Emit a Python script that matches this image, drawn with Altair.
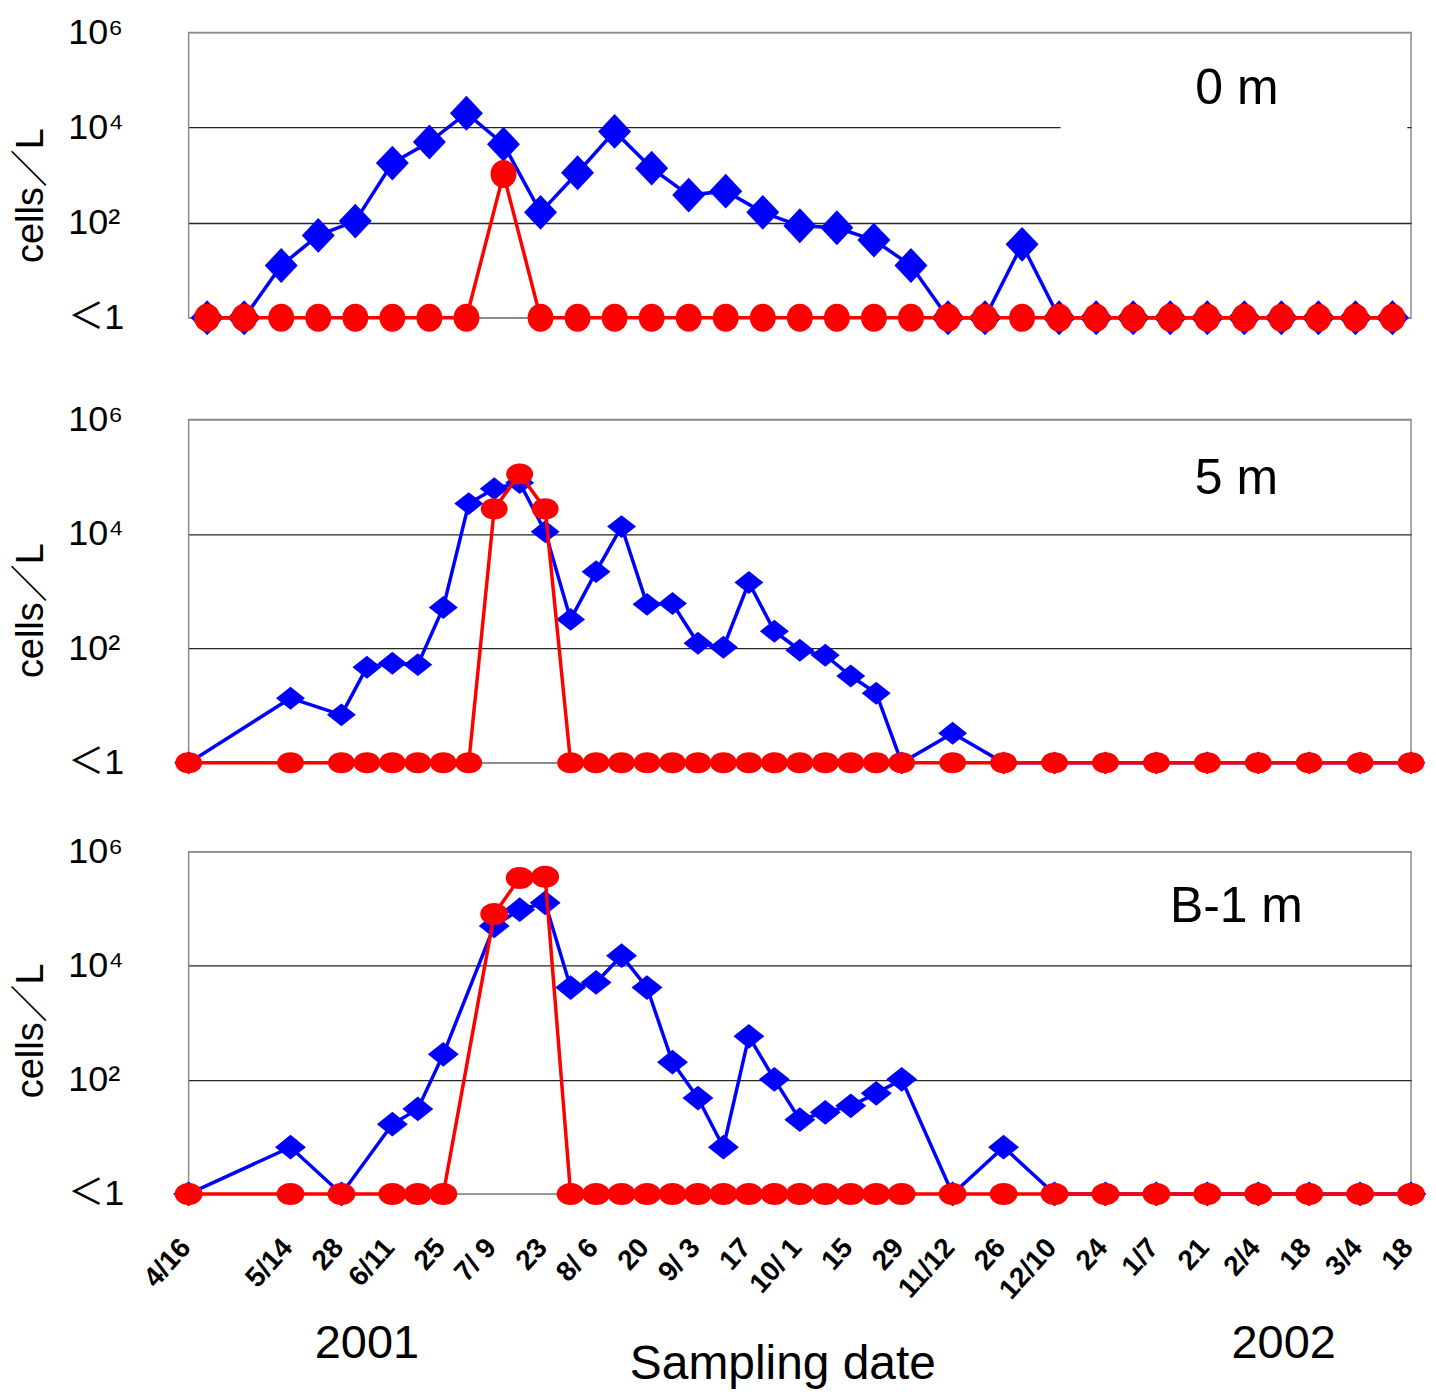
import altair as alt
import pandas as pd

# ---------------- data ----------------
# Panel "0 m": 33 sampling occasions drawn evenly spaced
surface_occasion = [1, 2, 3, 4, 5, 6, 7, 8, 9, 10, 11, 12, 13, 14, 15, 16, 17,
                    18, 19, 20, 21, 22, 23, 24, 25, 26, 27, 28, 29, 30, 31, 32, 33]
surface_blue = [1, 1, 12.6, 54, 108, 1790, 4950, 20000, 4460, 165, 1120,
                8300, 1400, 380, 460, 165, 86, 78, 43, 12.6, 1, 1, 35,
                1, 1, 1, 1, 1, 1, 1, 1, 1, 1]
surface_red = [1, 1, 1, 1, 1, 1, 1, 1, 1050, 1, 1, 1, 1, 1, 1, 1, 1,
               1, 1, 1, 1, 1, 1, 1, 1, 1, 1, 1, 1, 1, 1, 1, 1]

# Panel "5 m"
m5_dates = ["2001-04-16", "2001-05-14", "2001-05-28", "2001-06-04", "2001-06-11",
            "2001-06-18", "2001-06-25", "2001-07-02", "2001-07-09", "2001-07-16",
            "2001-07-23", "2001-07-30", "2001-08-06", "2001-08-13", "2001-08-20",
            "2001-08-27", "2001-09-03", "2001-09-10", "2001-09-17", "2001-09-24",
            "2001-10-01", "2001-10-08", "2001-10-15", "2001-10-22", "2001-10-29",
            "2001-11-12", "2001-11-26", "2001-12-10", "2001-12-24", "2002-01-07",
            "2002-01-21", "2002-02-04", "2002-02-18", "2002-03-04", "2002-03-18"]
m5_blue = [1, 13.5, 6.9, 47, 55, 52, 520, 34000, 62000, 79000, 11000, 322,
           2200, 13500, 590, 610, 123, 105, 1420, 200, 93, 76, 33, 16.5, 1,
           3.3, 1, 1, 1, 1, 1, 1, 1, 1, 1]
m5_red = [1, 1, 1, 1, 1, 1, 1, 1, 27500, 112000, 27500, 1, 1, 1, 1, 1, 1,
          1, 1, 1, 1, 1, 1, 1, 1, 1, 1, 1, 1, 1, 1, 1, 1, 1, 1]

# Panel "B-1 m"
b1_dates = ["2001-04-16", "2001-05-14", "2001-05-28", "2001-06-11", "2001-06-18",
            "2001-06-25", "2001-07-09", "2001-07-16", "2001-07-23", "2001-07-30",
            "2001-08-06", "2001-08-13", "2001-08-20", "2001-08-27", "2001-09-03",
            "2001-09-10", "2001-09-17", "2001-09-24", "2001-10-01", "2001-10-08",
            "2001-10-15", "2001-10-22", "2001-10-29", "2001-11-12", "2001-11-26",
            "2001-12-10", "2001-12-24", "2002-01-07", "2002-01-21", "2002-02-04",
            "2002-02-18", "2002-03-04", "2002-03-18"]
b1_blue = [1, 6.6, 1, 16.7, 31, 280, 50000, 96000, 127000, 4150, 5100, 15000,
           4150, 204, 48, 6.6, 580, 102, 20, 27, 35, 58, 102, 1, 6.6,
           1, 1, 1, 1, 1, 1, 1, 1]
b1_red = [1, 1, 1, 1, 1, 1, 81000, 345000, 363000, 1, 1, 1, 1, 1, 1, 1, 1,
          1, 1, 1, 1, 1, 1, 1, 1, 1, 1, 1, 1, 1, 1, 1, 1]

# axis texts
y_tick_values = [1, 100, 10000, 1000000]
y_tick_labels = ["＜1", "10²", "10⁴", "10⁶"]
x_tick_dates = ["2001-04-16", "2001-05-14", "2001-05-28", "2001-06-11", "2001-06-25",
                "2001-07-09", "2001-07-23", "2001-08-06", "2001-08-20", "2001-09-03",
                "2001-09-17", "2001-10-01", "2001-10-15", "2001-10-29", "2001-11-12",
                "2001-11-26", "2001-12-10", "2001-12-24", "2002-01-07", "2002-01-21",
                "2002-02-04", "2002-02-18", "2002-03-04", "2002-03-18"]
x_tick_labels = ["4/16", "5/14", "28", "6/11", "25", "7/ 9", "23", "8/ 6", "20",
                 "9/ 3", "17", "10/ 1", "15", "29", "11/12", "26", "12/10", "24",
                 "1/7", "21", "2/4", "18", "3/4", "18"]
panel_names = ["0 m", "5 m", "B-1 m"]
year_labels = ["2001", "2002"]
year_dates = ["2001-06-04", "2002-02-11"]

assert len(surface_blue) == len(surface_red) == len(surface_occasion) == 33
assert len(m5_dates) == len(m5_blue) == len(m5_red)
assert len(b1_dates) == len(b1_blue) == len(b1_red)

# ---------------- styling ----------------
FONT = "Liberation Sans, Arial, Noto Sans CJK JP, sans-serif"
BLUE = "#0000ff"
RED = "#ff0000"
W = 1225
H1, H2, H3 = 286, 344, 343


def ms(d):
    return int(pd.Timestamp(d, tz="UTC").timestamp() * 1000)


def ellipse(r):
    return (f"M-1,0A1,{r},0,0,1,0,-{r}A1,{r},0,0,1,1,0"
            f"A1,{r},0,0,1,0,{r}A1,{r},0,0,1,-1,0Z")


def diamond(r):
    return f"M-1,0L0,-{r}L1,0L0,{r}Z"


y_expr = ""
for v, t in zip(y_tick_values[:-1], y_tick_labels[:-1]):
    y_expr += f"datum.value <= {v * 1.01} ? '{t}' : "
y_expr += f"'{y_tick_labels[-1]}'"

x_expr = ("[" + ",".join(f"'{t}'" for t in x_tick_labels) + "][indexof(["
          + ",".join(f"'{d}'" for d in x_tick_dates)
          + "], utcFormat(datum.value, '%Y-%m-%d'))]")

y_scale = alt.Scale(type="log", domain=[1, 1000000], nice=False)
idx_scale = alt.Scale(domain=[0.5, 33.5], nice=False, zero=False)
t_scale = alt.Scale(type="utc", domain=[ms("2001-04-16"), ms("2002-03-18")], nice=False)


def y_axis(title_y):
    return alt.Axis(
        values=y_tick_values, labelExpr=y_expr,
        labelFont=FONT, labelFontSize=36, labelColor="black",
        labelAlign="left", labelBaseline="middle", labelPadding=121,
        labelOverlap=False, labelFlush=False,
        ticks=False, tickSize=0, domain=False,
        grid=True, gridWidth=1.3,
        gridColor={"condition": {"test": "datum.value < 50 || datum.value > 500000",
                                 "value": "#8c8c8c"}, "value": "#262626"},
        title="cells／L", titleFont=FONT, titleFontSize=38, titleFontWeight="normal",
        titleColor="black", titleAngle=270, titleX=-146, titleY=title_y,
        titleAlign="center", titleBaseline="alphabetic")


x_axis3 = alt.Axis(
    values=[ms(d) for d in x_tick_dates], labelExpr=x_expr,
    labelFont=FONT, labelFontSize=28, labelFontWeight="bold", labelColor="black",
    labelAngle=312, labelAlign="right", labelBaseline="middle",
    labelPadding=49, labelOffset=-3, labelOverlap=False, labelFlush=False,
    ticks=False, tickSize=0, domain=False, grid=False,
    title="Sampling date", titleFont=FONT, titleFontSize=48, titleFontWeight="normal",
    titleColor="black", titleAngle=0, titleX=595, titleY=185,
    titleAlign="center", titleBaseline="alphabetic")


def series_layers(df, X, yax, blue_shape, blue_size, red_shape, red_size):
    base = alt.Chart(df)
    yb = alt.Y("blue:Q", scale=y_scale, axis=yax)
    yr = alt.Y("red:Q", scale=y_scale, axis=yax)
    return [
        base.mark_line(color=BLUE, strokeWidth=3.5).encode(x=X, y=yb),
        base.mark_point(shape=blue_shape, size=blue_size, filled=True, color=BLUE,
                        opacity=1, strokeWidth=0).encode(x=X, y=yb),
        base.mark_line(color=RED, strokeWidth=3.5).encode(x=X, y=yr),
        base.mark_point(shape=red_shape, size=red_size, filled=True, color=RED,
                        opacity=1, strokeWidth=0).encode(x=X, y=yr),
    ]


def label_text(df, X, yax):
    return alt.Chart(df).mark_text(font=FONT, fontSize=50, color="black",
                                   align="center", baseline="middle").encode(
        x=X, y=alt.Y("val:Q", scale=y_scale, axis=yax), text="label:N")


# ---- panel 1 (0 m)
df1 = pd.DataFrame({"idx": surface_occasion, "blue": surface_blue, "red": surface_red})
ax1 = y_axis(163)
X1 = alt.X("idx:Q", scale=idx_scale, axis=None)
box1 = alt.Chart(pd.DataFrame({"idx": [24.04], "idx2": [33.4], "val": [3500], "val2": [400000]})).mark_rect(
    fill="white").encode(
    x=X1, x2="idx2:Q", y=alt.Y("val:Q", scale=y_scale, axis=ax1), y2="val2:Q")
txt1 = label_text(pd.DataFrame({"idx": [28.8], "val": [63000], "label": [panel_names[0]]}), X1, ax1)
p1 = alt.layer(box1, *series_layers(df1, X1, ax1, diamond(1.06), 1089, ellipse(1.08), 676),
               txt1).properties(width=W, height=H1)

# ---- panel 2 (5 m)
df2 = pd.DataFrame({"date": m5_dates, "blue": m5_blue, "red": m5_red})
ax2 = y_axis(191)
X2 = alt.X("date:T", scale=t_scale, axis=None)
txt2 = label_text(pd.DataFrame({"date": ["2002-01-29"], "val": [93000], "label": [panel_names[1]]}), X2, ax2)
p2 = alt.layer(*series_layers(df2, X2, ax2, diamond(0.79), 841, ellipse(0.78), 729),
               txt2).properties(width=W, height=H2)

# ---- panel 3 (B-1 m)
df3 = pd.DataFrame({"date": b1_dates, "blue": b1_blue, "red": b1_red})
ax3 = y_axis(179)
X3 = alt.X("date:T", scale=t_scale, axis=x_axis3)
txt3 = label_text(pd.DataFrame({"date": ["2002-01-29"], "val": [105000], "label": [panel_names[2]]}), X3, ax3)
years = alt.Chart(pd.DataFrame({"date": year_dates, "label": year_labels})).mark_text(
    font=FONT, fontSize=47, color="black", align="center", baseline="alphabetic").encode(
    x=X3, y=alt.value(507), text="label:N")
p3 = alt.layer(*series_layers(df3, X3, ax3, diamond(0.8), 961, ellipse(0.79), 784),
               txt3, years).properties(width=W, height=H3)

chart = alt.vconcat(p1, alt.vconcat(p2, p3, spacing=51), spacing=64).properties(
    padding={"left": 4, "top": 4, "right": 0, "bottom": 0},
    background="white").configure_view(stroke="#8c8c8c", strokeWidth=1.5)

chart.save("out.html", embed_options={"renderer": "svg", "actions": False})
